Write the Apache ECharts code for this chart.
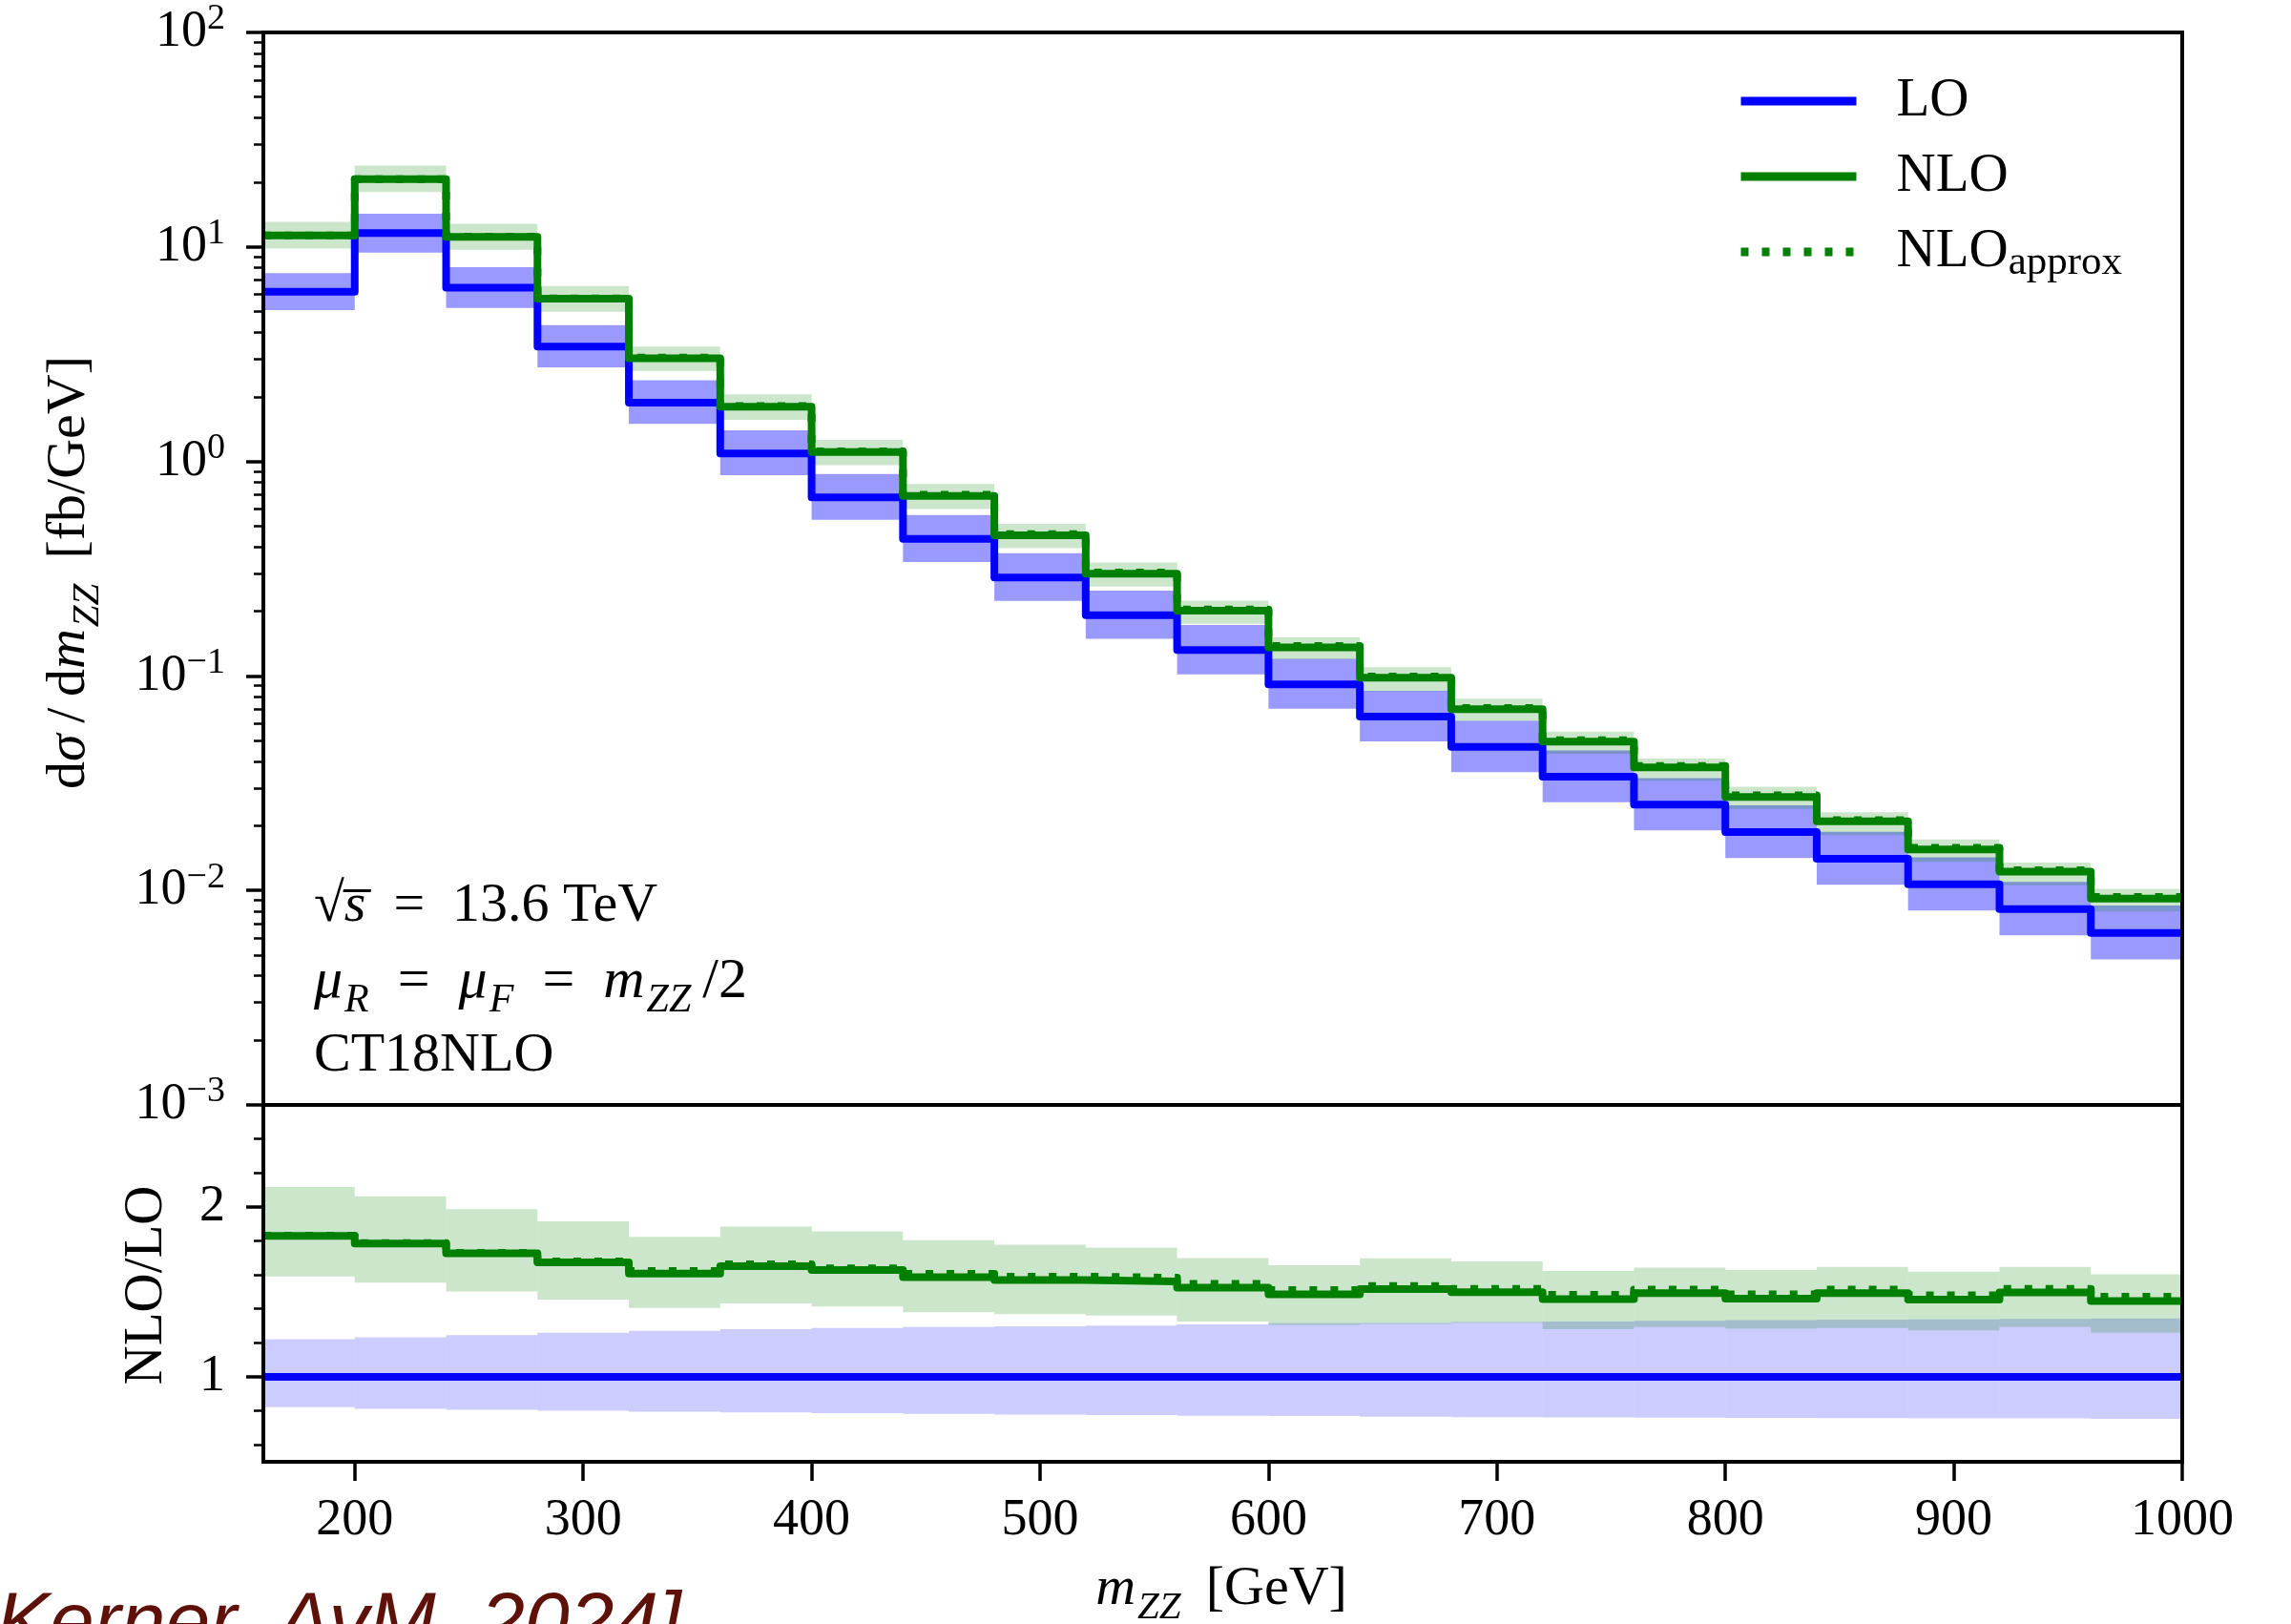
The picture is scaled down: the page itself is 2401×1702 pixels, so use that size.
<!DOCTYPE html>
<html>
<head>
<meta charset="utf-8">
<script src="https://cdn.jsdelivr.net/npm/echarts@6/dist/echarts.min.js"></script>
<style>
html,body{margin:0;padding:0;background:#fff;}
#chart{width:2401px;height:1702px;}
</style>
</head>
<body>
<div id="chart"></div>
<script>
// ---------------- data ----------------
const binEdges = [160,200,240,280,320,360,400,440,480,520,560,600,640,680,720,760,800,840,880,920,960,1000];

// upper panel: dsigma/dm_ZZ [fb/GeV]
const lo        = [6.18, 11.6, 6.45, 3.43, 1.88, 1.09, 0.68, 0.435, 0.288, 0.192, 0.132, 0.0914, 0.0647, 0.0467, 0.0339, 0.0251, 0.0187, 0.01406, 0.01067, 0.00818, 0.00634];
const loUp      = [7.55, 14.3, 8.04, 4.32, 2.388, 1.395, 0.875, 0.5625, 0.3738, 0.250, 0.1727, 0.1202, 0.0852, 0.0618, 0.04495, 0.03338, 0.02495, 0.01878, 0.01428, 0.01097, 0.00851];
const loDown    = [5.07, 9.42, 5.20, 2.744, 1.495, 0.862, 0.534, 0.340, 0.224, 0.1488, 0.1018, 0.0703, 0.0495, 0.03563, 0.0258, 0.01908, 0.01417, 0.01064, 0.00807, 0.00618, 0.00477];
const nlo       = [11.30, 20.71, 11.14, 5.74, 3.023, 1.800, 1.107, 0.690, 0.452, 0.2997, 0.2013, 0.1357, 0.0981, 0.0700, 0.0494, 0.03745, 0.0273, 0.02098, 0.01552, 0.01224, 0.00917];
const nloUp     = [13.08, 23.93, 12.81, 6.57, 3.429, 2.054, 1.262, 0.785, 0.512, 0.338, 0.2243, 0.1514, 0.1098, 0.0784, 0.0550, 0.04124, 0.03044, 0.02316, 0.01727, 0.01347, 0.01017];
const nloDown   = [9.83, 18.03, 9.69, 4.99, 2.641, 1.561, 0.9615, 0.600, 0.394, 0.261, 0.175, 0.1194, 0.0848, 0.0615, 0.0434, 0.03245, 0.0240, 0.0181, 0.01359, 0.01058, 0.00798];
const nloApprox = [11.32, 20.73, 11.16, 5.76, 3.051, 1.812, 1.115, 0.699, 0.458, 0.3039, 0.2042, 0.1381, 0.0993, 0.0709, 0.0502, 0.0380, 0.02777, 0.02129, 0.01579, 0.01242, 0.00933];

// lower panel: NLO/LO
const rLo       = [1,1,1,1,1,1,1,1,1,1,1,1,1,1,1,1,1,1,1,1,1];
const rLoUp     = [1.222, 1.233, 1.246, 1.259, 1.270, 1.280, 1.287, 1.293, 1.298, 1.302, 1.308, 1.315, 1.317, 1.323, 1.326, 1.330, 1.334, 1.336, 1.338, 1.341, 1.343];
const rLoDown   = [0.821, 0.812, 0.806, 0.800, 0.795, 0.791, 0.786, 0.782, 0.778, 0.775, 0.771, 0.769, 0.765, 0.763, 0.761, 0.760, 0.758, 0.757, 0.756, 0.755, 0.752];
const rNlo      = [1.829, 1.785, 1.727, 1.673, 1.608, 1.651, 1.628, 1.587, 1.570, 1.561, 1.525, 1.485, 1.516, 1.498, 1.457, 1.492, 1.460, 1.492, 1.455, 1.496, 1.446];
const rNloUp    = [2.117, 2.063, 1.986, 1.915, 1.824, 1.884, 1.856, 1.804, 1.777, 1.761, 1.699, 1.656, 1.697, 1.679, 1.623, 1.643, 1.628, 1.647, 1.619, 1.647, 1.604];
const rNloDown  = [1.591, 1.554, 1.502, 1.455, 1.405, 1.432, 1.414, 1.380, 1.369, 1.360, 1.326, 1.306, 1.311, 1.317, 1.280, 1.293, 1.283, 1.287, 1.274, 1.293, 1.259];
const rApprox   = [1.831, 1.787, 1.730, 1.679, 1.623, 1.662, 1.639, 1.606, 1.590, 1.583, 1.547, 1.511, 1.535, 1.518, 1.482, 1.514, 1.485, 1.514, 1.480, 1.518, 1.471];

// ticks
const xTicks = [200,300,400,500,600,700,800,900,1000];
const logDecades = [-3,-2,-1,0,1];
const logMinorFactors = [2,3,4,5,6,7,8,9];
const ratioMajorTicks = [1, 2];
const ratioMinorTicks = [0.6, 0.8, 1.2, 1.4, 1.6, 1.8, 2.2, 2.4];
const legendNames = ['LO', 'NLO', 'NLOapprox'];

// ---------------- styling ----------------
const F = "'Liberation Serif','DejaVu Serif',serif";
const BLUE = '#0000ff', GREEN = '#008000';
const LH = 64;

function mathRich(size) {
  const s = Math.round(size * 0.7);
  return {
    r: {fontFamily: F, fontSize: size, lineHeight: LH, color: '#000'},
    i: {fontFamily: F, fontSize: size, fontStyle: 'italic', lineHeight: LH, color: '#000'},
    u: {fontFamily: F, fontSize: s, fontStyle: 'italic', lineHeight: LH, padding: [39, 0, 0, 2], color: '#000'}
  };
}

const minorLogTicks = [];
logDecades.forEach(n => logMinorFactors.forEach(k => minorLogTicks.push(n + Math.log10(k))));

function stepData(vals) {
  const d = vals.map((v, i) => [binEdges[i], v]);
  d.push([binEdges[vals.length], vals[vals.length - 1]]);
  return d;
}
function bandData(up, down) {
  return up.map((u, i) => [binEdges[i], binEdges[i + 1], u, down[i]]);
}
function band(name, xi, yi, up, down, color) {
  return {
    type: 'custom', name, xAxisIndex: xi, yAxisIndex: yi, silent: true,
    data: bandData(up, down),
    encode: {x: [0, 1], y: [2, 3]},
    renderItem(params, api) {
      const a = api.coord([api.value(0), api.value(2)]);
      const b = api.coord([api.value(1), api.value(3)]);
      return {type: 'rect', shape: {x: a[0], y: a[1], width: b[0] - a[0], height: b[1] - a[1]},
              style: {fill: color}};
    }
  };
}
function step(name, xi, yi, vals, color, dash) {
  return {
    type: 'line', name, xAxisIndex: xi, yAxisIndex: yi, step: 'end',
    symbol: 'none', showSymbol: false, silent: true,
    data: stepData(vals),
    itemStyle: {color},
    lineStyle: {color, width: 8, type: dash || 'solid', join: 'round', cap: 'butt'}
  };
}

const tickLabelStyle = {color: '#000', fontFamily: F, fontSize: 54, lineHeight: LH};
const majorTick = {show: true, inside: false, length: 18, lineStyle: {color: '#000', width: 3.5}};
const minorTickStyle = {show: true, inside: false, length: 10, lineStyle: {color: '#000', width: 2.5}};

function supLabel(v) {
  const e = Math.round(Math.log10(v));
  const t = e < 0 ? '\u2212' + (-e) : String(e);
  return '{b|10}{s|' + t + '}';
}

const legendRich = {
  f: {fontFamily: F, fontSize: 57, lineHeight: LH, color: '#000', padding: [0, 0, 0, 37]},
  m: {fontFamily: F, fontSize: 57, lineHeight: LH, color: '#000'},
  s: {fontFamily: F, fontSize: 43, lineHeight: LH, color: '#000', padding: [23, 0, 0, 0]}
};
const legendCenters = [106, 185, 263];

const option = {
  animation: false,
  backgroundColor: '#fff',
  grid: [
    {left: 276, top: 34, width: 2011, height: 1124, show: true, z: 10,
     borderColor: '#000', borderWidth: 4, backgroundColor: 'rgba(0,0,0,0)', outerBoundsMode: 'none'},
    {left: 276, top: 1158, width: 2011, height: 374, show: true, z: 10,
     borderColor: '#000', borderWidth: 4, backgroundColor: 'rgba(0,0,0,0)', outerBoundsMode: 'none'}
  ],
  xAxis: [
    {gridIndex: 0, type: 'value', min: 160, max: 1000, show: false, splitLine: {show: false}},
    {gridIndex: 1, type: 'value', min: 160, max: 1000,
     axisLine: {show: false},
     axisTick: Object.assign({customValues: xTicks}, majorTick, {length: 20}),
     axisLabel: Object.assign({customValues: xTicks, margin: 30, formatter: v => String(v)}, tickLabelStyle),
     splitLine: {show: false}}
  ],
  yAxis: [
    {gridIndex: 0, type: 'log', logBase: 10, min: 0.001, max: 100, splitNumber: 5, position: 'left',
     axisLine: {show: false}, axisTick: majorTick,
     axisLabel: Object.assign({margin: 40, formatter: supLabel,
       rich: {b: {fontFamily: F, fontSize: 54, lineHeight: LH, color: '#000'},
              s: {fontFamily: F, fontSize: 38, lineHeight: LH, color: '#000', padding: [0, 0, 27, 0]}}}, tickLabelStyle),
     splitLine: {show: false}, minorTick: {show: false}},
    {gridIndex: 0, type: 'value', min: -3, max: 2, position: 'left',
     axisLine: {show: false}, axisTick: Object.assign({customValues: minorLogTicks}, minorTickStyle),
     axisLabel: {show: false}, splitLine: {show: false}},
    {gridIndex: 1, type: 'value', min: 0.5, max: 2.6, position: 'left',
     axisLine: {show: false}, axisTick: Object.assign({customValues: ratioMajorTicks}, majorTick),
     axisLabel: Object.assign({customValues: ratioMajorTicks, margin: 40}, tickLabelStyle),
     splitLine: {show: false}},
    {gridIndex: 1, type: 'value', min: 0.5, max: 2.6, position: 'left',
     axisLine: {show: false}, axisTick: Object.assign({customValues: ratioMinorTicks}, minorTickStyle),
     axisLabel: {show: false}, splitLine: {show: false}}
  ],
  legend: legendNames.map((n, k) => ({
    data: [n], orient: 'vertical', left: 1820, top: legendCenters[k] - LH / 2,
    itemWidth: 121, itemHeight: 9, padding: 0, selectedMode: false,
    itemStyle: {opacity: 0},
    lineStyle: {width: 9},
    textStyle: {fontFamily: F, fontSize: 57, color: '#000', lineHeight: LH, rich: legendRich},
    formatter: name => name === 'NLOapprox' ? '{f|NLO}{s|approx}' : '{f|' + name + '}'
  })),
  series: [
    band('LO band', 0, 0, loUp, loDown, 'rgba(0,0,255,0.4)'),
    band('NLO band', 0, 0, nloUp, nloDown, 'rgba(0,128,0,0.2)'),
    step('LO', 0, 0, lo, BLUE),
    step('NLO', 0, 0, nlo, GREEN),
    step('NLOapprox', 0, 0, nloApprox, GREEN, [8, 14]),
    band('LO ratio band', 1, 2, rLoUp, rLoDown, 'rgba(0,0,255,0.2)'),
    band('NLO ratio band', 1, 2, rNloUp, rNloDown, 'rgba(0,128,0,0.2)'),
    step('LO ratio', 1, 2, rLo, BLUE),
    step('NLO ratio', 1, 2, rNlo, GREEN),
    step('NLOapprox ratio', 1, 2, rApprox, GREEN, [8, 14])
  ],
  graphic: [
    {type: 'text', x: 73, y: 600, rotation: Math.PI / 2, z: 20,
     style: {text: '{r|d}{i|\u03c3}{r|\u2009/\u2009d}{i|m}{u|ZZ}{r|\u2009 [fb/GeV]}', rich: mathRich(58), align: 'center', verticalAlign: 'middle'}},
    {type: 'text', x: 154, y: 1347, rotation: Math.PI / 2, z: 20,
     style: {text: '{r|NLO/LO}', rich: mathRich(57), align: 'center', verticalAlign: 'middle'}},
    {type: 'text', x: 1280, y: 1666, z: 20,
     style: {text: '{i|m}{u|ZZ}{r|\u2009 [GeV]}', rich: mathRich(58), align: 'center', verticalAlign: 'middle'}},
    {type: 'text', x: 329, y: 950, z: 20,
     style: {text: '{r|\u221a}{i|s\u0305}{r|\u2002=\u200213.6 TeV}', rich: mathRich(58), align: 'left', verticalAlign: 'middle'}},
    {type: 'text', x: 329, y: 1029, z: 20,
     style: {text: '{i|\u03bc}{u|R}{r|\u2002=\u2002}{i|\u03bc}{u|F}{r|\u2002=\u2002}{i|m}{u|ZZ}{r|\u2009/2}', rich: mathRich(60), align: 'left', verticalAlign: 'middle'}},
    {type: 'text', x: 329, y: 1107, z: 20,
     style: {text: '{r|CT18NLO}', rich: mathRich(58), align: 'left', verticalAlign: 'middle'}},
    {type: 'text', x: -4, y: 1704, z: 20,
     style: {text: 'Kerner, AvM, 2024]', fontFamily: "'Liberation Sans',Arial,sans-serif", fontStyle: 'italic',
             fontSize: 84, fill: '#5e1108', align: 'left', verticalAlign: 'middle'}}
  ]
};

const chart = echarts.init(document.getElementById('chart'), null, {renderer: 'canvas', width: 2401, height: 1702});
chart.setOption(option);
</script>
</body>
</html>
